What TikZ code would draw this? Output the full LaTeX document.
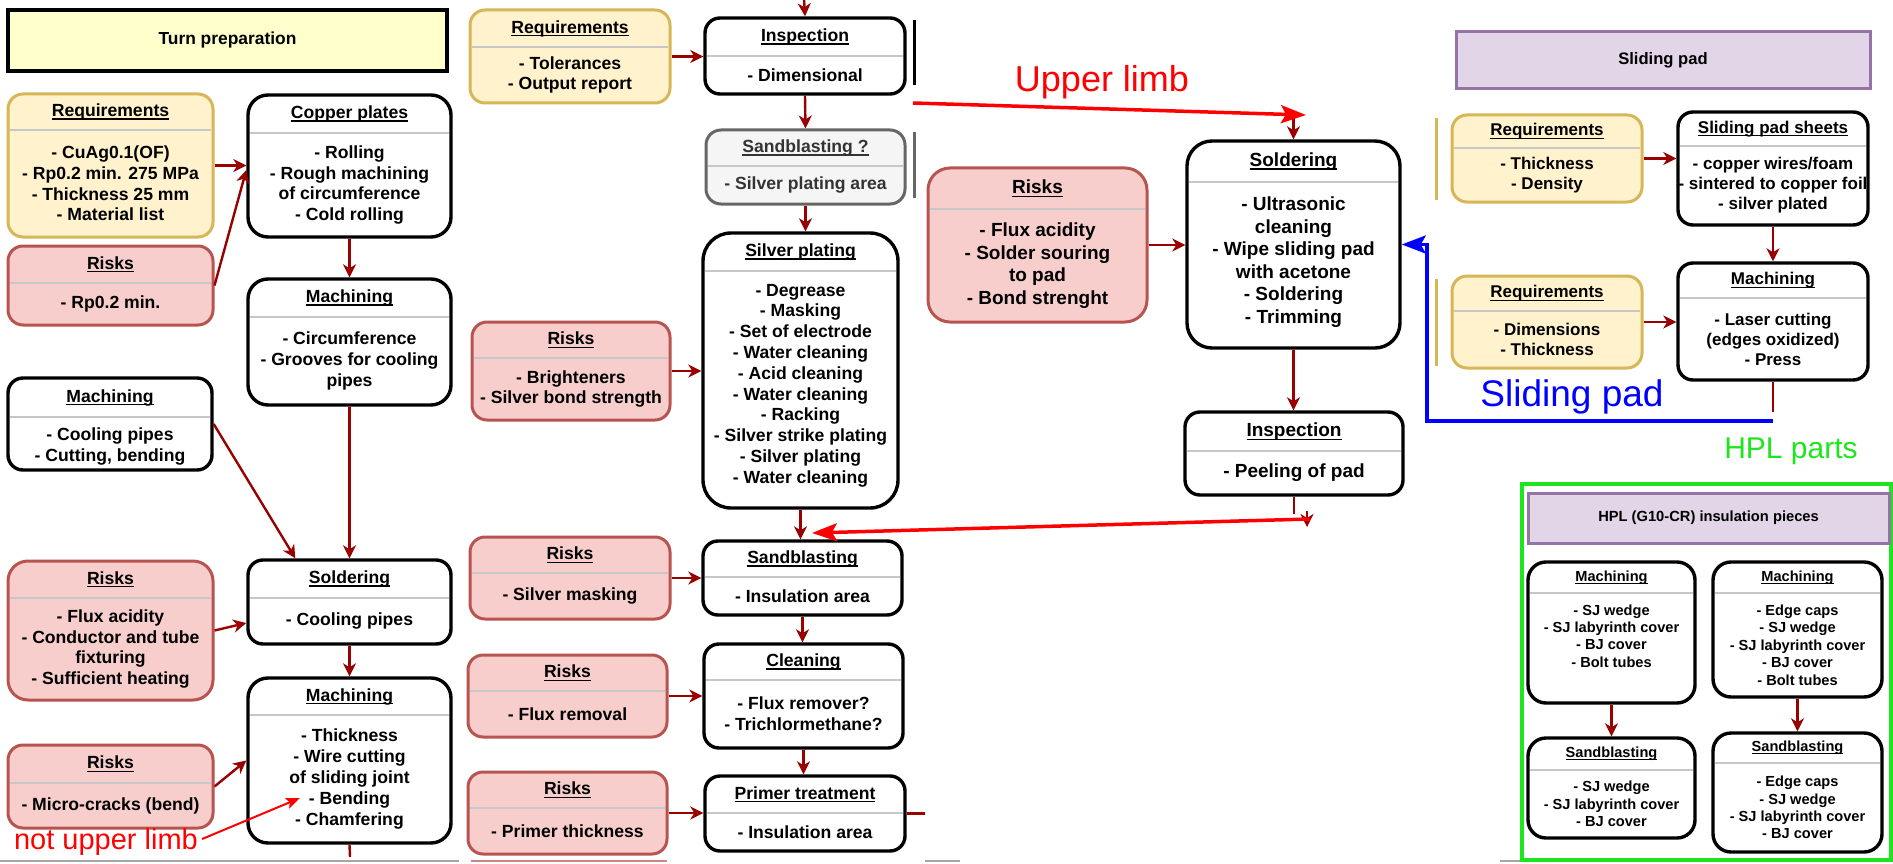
\documentclass[tikz,border=0pt]{standalone}
\usepackage{fontspec}
\setmainfont{Liberation Sans}
\usetikzlibrary{arrows.meta}

\definecolor{yfill}{HTML}{FFF2CC}
\definecolor{ydraw}{HTML}{D6B656}
\definecolor{rfill}{HTML}{F8CECC}
\definecolor{rdraw}{HTML}{B85450}
\definecolor{gfill}{HTML}{F5F5F5}
\definecolor{gdraw}{HTML}{666666}
\definecolor{gtext}{HTML}{333333}
\definecolor{pfill}{HTML}{E1D5E7}
\definecolor{pdraw}{HTML}{9673A6}
\definecolor{tfill}{HTML}{FFFFCC}
\definecolor{arrred}{HTML}{990000}
\definecolor{hplgreen}{HTML}{1EE61E}

% underline at a fixed depth below the baseline
\newcommand\hdrline[1]{\leavevmode\setbox0\hbox{#1}\rlap{\vrule height -0.11em depth 0.18em width \wd0}\box0}

% body text shift (px) applied to the next box
\newcommand\bsh{0}
% \bx{name}{style}{x1}{y1}{x2}{y2}{separator y}{header}{body}
\newcommand\bx[9]{%
  \node[#2, minimum width={#5-#3}, minimum height={#6-#4}] (#1) at ({(#3+#5)/2},{(#4+#6)/2}) {};
  \draw[sepline] ({#3+1.8},#7) -- ({#5-1.8},#7);
  \node[btxt] (#1-h) at ({(#3+#5)/2},{(#4+#7)/2}) {\hdrline{#8}};
  \node[btxt] (#1-b) at ({(#3+#5)/2},{(#7+#6)/2+\bsh}) {#9};
}

\begin{document}
\begin{tikzpicture}[x=1pt,y=-1pt,
  wbox/.style={draw=black, line width=3.4pt, fill=white, rounded corners=15pt, inner sep=0pt},
  ybox/.style={draw=ydraw, line width=3pt, fill=yfill, rounded corners=15pt, inner sep=0pt},
  rbox/.style={draw=rdraw, line width=3pt, fill=rfill, rounded corners=15pt, inner sep=0pt},
  gbox/.style={draw=gdraw, line width=3pt, fill=gfill, rounded corners=15pt, inner sep=0pt},
  sepline/.style={draw=black!22, line width=2pt},
  btxt/.style={align=center, inner sep=0pt, font=\fontsize{17.6}{20.8}\selectfont\bfseries},
  titlebox/.style={inner sep=0pt, font=\fontsize{17.4}{20}\selectfont\bfseries},
  arr/.style={draw=arrred, line width=2.4pt, -{Stealth[length=13pt,width=13pt,inset=4pt]}},
  stub/.style={draw=arrred, line width=2.4pt},
  redarr/.style={draw=red, line width=3.5pt, -{Stealth[length=25pt,width=18pt,inset=5pt]}},
  bluearr/.style={draw=blue, line width=3.5pt, -{Stealth[length=24pt,width=18pt,inset=5pt]}},
  note/.style={inner sep=0pt, font=\fontsize{36}{40}\selectfont}]

\useasboundingbox (0,0) rectangle (1893,864);
\fill[white] (0,0) rectangle (1893,864);

% ---------------- turn preparation column ----------------
\node[titlebox, draw=black, line width=4pt, fill=tfill, minimum width=439, minimum height=61]
  (turn) at (227.5,40.5) {Turn preparation};

\bx{req1}{ybox}{8}{94}{213}{237}{130}{Requirements}{- CuAg0.1(OF)\\- Rp0.2 min. 275 MPa\\- Thickness 25 mm\\- Material list}
\bx{cop}{wbox, rounded corners=20pt}{248}{95}{451}{237}{133}{Copper plates}{- Rolling\\- Rough machining\\of circumference\\- Cold rolling}
\bx{risk1}{rbox}{8}{246}{213}{325}{283}{Risks}{- Rp0.2 min.}
\bx{mach1}{wbox, rounded corners=20pt}{248}{279}{451}{405}{317}{Machining}{- Circumference\\- Grooves for cooling\\pipes}
\renewcommand\bsh{3}
\bx{mcool}{wbox}{8}{378}{212}{470}{417}{Machining}{- Cooling pipes\\- Cutting, bending}
\renewcommand\bsh{0}
\bx{rflux}{rbox, rounded corners=20pt}{8}{561}{213}{700}{598}{Risks}{- Flux acidity\\- Conductor and tube\\fixturing\\- Sufficient heating}
\bx{sold1}{wbox}{248}{560}{451}{644}{598}{Soldering}{- Cooling pipes}
\bx{rmicro}{rbox}{8}{745}{213}{828}{783}{Risks}{- Micro-cracks (bend)}
\bx{mach3}{wbox, rounded corners=20pt}{248}{678}{451}{843}{715}{Machining}{- Thickness\\- Wire cutting\\of sliding joint\\- Bending\\- Chamfering}

\draw[arr] (req1.east) -- (req1.east -| cop.west);
\draw[arr] (risk1.east) -- ([yshift=-4pt]cop.west);
\draw[arr] (cop.south) -- (mach1.north);
\draw[arr] (mcool.east) -- ([xshift=49pt]sold1.north west);
\draw[arr] (mach1.south) -- (sold1.north);
\draw[arr] (rflux.east) -- ([yshift=-21pt]sold1.west);
\draw[arr] (sold1.south) -- (mach3.north);
\draw[arr] (rmicro.east) -- (mach3.west);
\coordinate (m3stub) at (350,857);
\draw[stub] (mach3.south) -- (m3stub);

% ---------------- silver plating column ----------------
\bx{req2}{ybox}{470}{10}{670}{103}{47}{Requirements}{- Tolerances\\- Output report}
\bx{insp1}{wbox}{705}{18}{905}{94}{56}{Inspection}{- Dimensional}
\begin{scope}[btxt/.append style={text=gtext}]
\bx{sandq}{gbox}{706}{130}{905}{204}{166}{Sandblasting ?}{- Silver plating area}
\end{scope}
\renewcommand\bsh{-4}
\bx{silver}{wbox, rounded corners=28pt}{703}{233}{898}{508}{271}{Silver plating}{- Degrease\\- Masking\\- Set of electrode\\- Water cleaning\\- Acid cleaning\\- Water cleaning\\- Racking\\- Silver strike plating\\- Silver plating\\- Water cleaning}
\renewcommand\bsh{0}
\bx{rbright}{rbox}{472}{322}{670}{420}{358}{Risks}{- Brighteners\\- Silver bond strength}
\bx{rmask}{rbox}{470}{537}{670}{619}{573}{Risks}{- Silver masking}
\bx{sandb}{wbox}{703}{541}{902}{615}{577}{Sandblasting}{- Insulation area}
\bx{rfluxrem}{rbox}{468}{655}{667}{737}{691}{Risks}{- Flux removal}
\bx{clean}{wbox}{704}{644}{903}{748}{680}{Cleaning}{- Flux remover?\\- Trichlormethane?}
\bx{rprimer}{rbox}{468}{772}{667}{854}{808}{Risks}{- Primer thickness}
\bx{primer}{wbox}{705}{776}{905}{851}{813}{Primer treatment}{- Insulation area}

\coordinate (topin) at (804,-2);
\draw[arr] (topin) -- (insp1.north);
\draw[arr] (req2.east) -- (req2.east -| insp1.west);
\draw[arr] (insp1.south) -- (sandq.north);
\draw[arr] (sandq.south) -- (sandq.south |- silver.north);
\draw[arr] (rbright.east) -- (rbright.east -| silver.west);
\draw[arr] (silver.south) -- (silver.south |- sandb.north);
\draw[arr] (rmask.east) -- (rmask.east -| sandb.west);
\draw[arr] (sandb.south) -- (sandb.south |- clean.north);
\draw[arr] (rfluxrem.east) -- (rfluxrem.east -| clean.west);
\draw[arr] (clean.south) -- (clean.south |- primer.north);
\draw[arr] (rprimer.east) -- (rprimer.east -| primer.west);
\coordinate (prstub) at (925,813.5);
\draw[stub] (primer.east) -- (prstub);

% cut edges of neighbouring boxes
\draw[black, line width=3pt] (914,20) -- (914,85);
\draw[gdraw, line width=3pt] (914,132) -- (914,198);
\draw[ydraw, line width=3pt] (1436,118) -- (1436,200);
\draw[ydraw, line width=3pt] (1436,279) -- (1436,366);
\draw[black!35, line width=1.5pt] (0,861) -- (459,861);
\draw[rdraw!70, line width=1.5pt] (471,861) -- (667,861);
\draw[black!35, line width=1.5pt] (925,861) -- (960,861);
\draw[black!35, line width=1.5pt] (1500,861) -- (1522,861);

% ---------------- sliding pad soldering ----------------
\begin{scope}[btxt/.style={align=center, inner sep=0pt, font=\fontsize{19}{22.5}\selectfont\bfseries}]
\bx{rsold}{rbox, rounded corners=22pt}{928}{168}{1147}{322}{209}{Risks}{- Flux acidity\\- Solder souring\\to pad\\- Bond strenght}
\renewcommand\bsh{-3}
\bx{sold2}{wbox, rounded corners=25pt}{1187}{141}{1400}{348}{182}{Soldering}{- Ultrasonic\\cleaning\\- Wipe sliding pad\\with acetone\\- Soldering\\- Trimming}
\renewcommand\bsh{0}
\bx{insp2}{wbox}{1185}{412}{1403}{495}{451}{Inspection}{- Peeling of pad}
\end{scope}

\coordinate (soldin) at (1293.5,116);
\draw[arr] (soldin) -- (sold2.north);
\draw[arr] (rsold.east) -- (rsold.east -| sold2.west);
\draw[arr] (sold2.south) -- (sold2.south |- insp2.north);
\coordinate (i2stub) at (1294,514);
\draw[stub] (insp2.south) -- (insp2.south |- i2stub);
\coordinate (i2a) at (1307,511);
\coordinate (i2b) at (1307,527);
\draw[arr] (i2a) -- (i2b);

% ---------------- sliding pad column ----------------
\node[titlebox, draw=pdraw, line width=3pt, fill=pfill, minimum width=414, minimum height=57,
  font=\fontsize{16.6}{20}\selectfont\bfseries] (sphead) at (1663,60.5) {Sliding pad};
\begin{scope}[btxt/.style={align=center, inner sep=0pt, font=\fontsize{17}{20}\selectfont\bfseries}]
\bx{req3}{ybox}{1452}{115}{1642}{202}{148}{Requirements}{- Thickness\\- Density}
\bx{sheets}{wbox}{1678}{112}{1868}{225}{146}{Sliding pad sheets}{- copper wires/foam\\- sintered to copper foil\\- silver plated}
\bx{req4}{ybox}{1452}{276}{1642}{368}{311}{Requirements}{- Dimensions\\- Thickness}
\bx{slmach}{wbox}{1678}{263}{1868}{380}{298}{Machining}{- Laser cutting\\(edges oxidized)\\- Press}
\end{scope}

\draw[arr] (req3.east) -- (req3.east -| sheets.west);
\draw[arr] (sheets.south) -- (slmach.north);
\draw[arr] (req4.east) -- (req4.east -| slmach.west);
\coordinate (smstub) at (1773,412);
\draw[stub] (slmach.south) -- (smstub);

% ---------------- HPL insulation pieces ----------------
\draw[hplgreen, line width=3.5pt] (1522,484) rectangle (1891,860);
\node[titlebox, draw=pdraw, line width=3pt, fill=pfill, minimum width=361, minimum height=50,
  font=\fontsize{14.7}{18}\selectfont\bfseries] (hplhead) at (1708.5,518) {HPL (G10-CR) insulation pieces};
\begin{scope}[btxt/.style={align=center, inner sep=0pt, font=\fontsize{14.6}{17.4}\selectfont\bfseries}]
\renewcommand\bsh{-12}
\bx{hm1}{wbox, rounded corners=18pt}{1528}{562}{1695}{703}{593}{Machining}{- SJ wedge\\- SJ labyrinth cover\\- BJ cover\\- Bolt tubes}
\renewcommand\bsh{0}
\bx{hm2}{wbox, rounded corners=18pt}{1713}{562}{1882}{697}{593}{Machining}{- Edge caps\\- SJ wedge\\- SJ labyrinth cover\\- BJ cover\\- Bolt tubes}
\bx{hs1}{wbox, rounded corners=18pt}{1528}{738}{1695}{838}{770}{Sandblasting}{- SJ wedge\\- SJ labyrinth cover\\- BJ cover}
\bx{hs2}{wbox, rounded corners=18pt}{1713}{733}{1882}{852}{763}{Sandblasting}{- Edge caps\\- SJ wedge\\- SJ labyrinth cover\\- BJ cover}
\end{scope}
\draw[arr] (hm1.south) -- (hm1.south |- hs1.north);
\draw[arr] (hm2.south) -- (hm2.south |- hs2.north);

% ---------------- coloured annotations ----------------
\node[note, text=red] (ultxt) at (1102,82) {Upper limb};
\coordinate (ulstart) at (913,103);
\coordinate (ulend) at (1306,115);
\draw[redarr] (ulstart) -- (ulend);

\coordinate (lowstart) at (1310,519);
\coordinate (lowend) at (812,533);
\draw[redarr] (lowstart) -- (lowend);

\node[note, text=red, font=\fontsize{29}{32}\selectfont] (nultxt) at (106,842) {not upper limb};
\coordinate (nulend) at (300,798);
\draw[draw=red, line width=2pt, -{Stealth[length=14pt,width=11pt,inset=3pt]}] ([xshift=4pt,yshift=3pt]nultxt.east) -- (nulend);

\coordinate (bstart) at (1773,421);
\coordinate (bcorner) at (1427,421);
\draw[bluearr] (bstart) -- (bcorner) |- (sold2.east);
\node[note, text=blue, font=\fontsize{37}{40}\selectfont] (sptxt) at (1572,397) {Sliding pad};

\node[note, text=hplgreen, font=\fontsize{30}{34}\selectfont] (hpltxt) at (1791,451) {HPL parts};

\end{tikzpicture}
\end{document}
